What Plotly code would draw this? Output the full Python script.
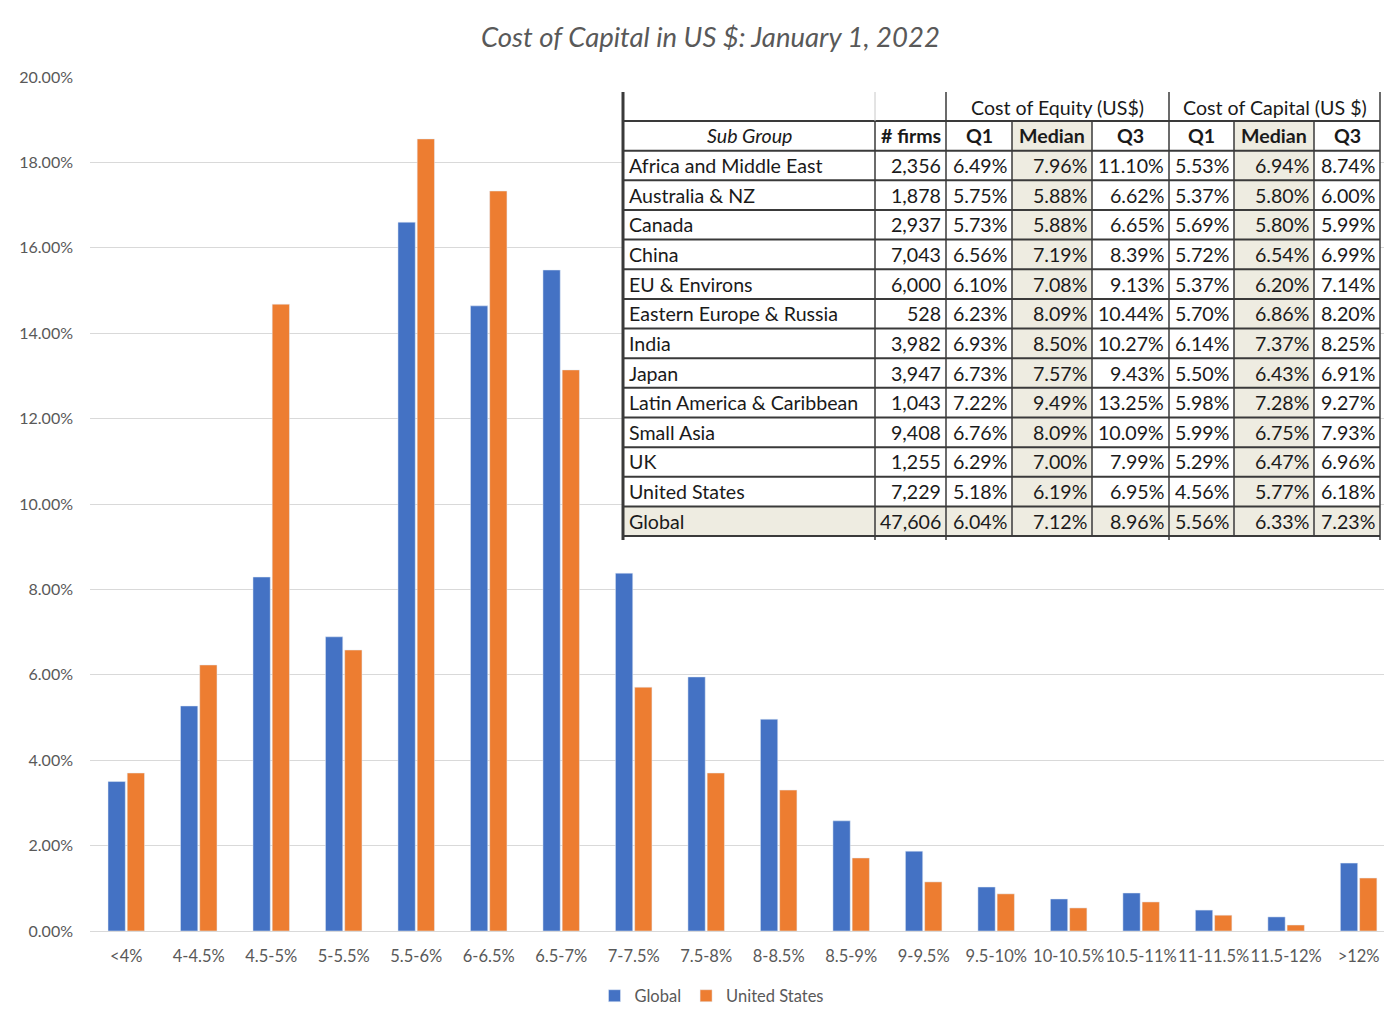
import plotly.graph_objects as go

# ---------------- data ----------------
categories = ["<4%", "4-4.5%", "4.5-5%", "5-5.5%", "5.5-6%", "6-6.5%", "6.5-7%", "7-7.5%",
              "7.5-8%", "8-8.5%", "8.5-9%", "9-9.5%", "9.5-10%", "10-10.5%", "10.5-11%",
              "11-11.5%", "11.5-12%", ">12%"]
global_vals = [3.50, 5.27, 8.29, 6.89, 16.60, 14.64, 15.48, 8.38, 5.95, 4.96, 2.58, 1.87,
               1.03, 0.75, 0.89, 0.49, 0.33, 1.59]
us_vals = [3.70, 6.23, 14.68, 6.58, 18.55, 17.33, 13.14, 5.71, 3.70, 3.30, 1.71, 1.15,
           0.87, 0.54, 0.68, 0.37, 0.14, 1.24]
y_ticks = [0, 2, 4, 6, 8, 10, 12, 14, 16, 18, 20]

regions = ["Africa and Middle East", "Australia & NZ", "Canada", "China", "EU & Environs",
           "Eastern Europe & Russia", "India", "Japan", "Latin America & Caribbean",
           "Small Asia", "UK", "United States", "Global"]
n_firms = [2356, 1878, 2937, 7043, 6000, 528, 3982, 3947, 1043, 9408, 1255, 7229, 47606]
coe_q1 = [6.49, 5.75, 5.73, 6.56, 6.10, 6.23, 6.93, 6.73, 7.22, 6.76, 6.29, 5.18, 6.04]
coe_med = [7.96, 5.88, 5.88, 7.19, 7.08, 8.09, 8.50, 7.57, 9.49, 8.09, 7.00, 6.19, 7.12]
coe_q3 = [11.10, 6.62, 6.65, 8.39, 9.13, 10.44, 10.27, 9.43, 13.25, 10.09, 7.99, 6.95, 8.96]
coc_q1 = [5.53, 5.37, 5.69, 5.72, 5.37, 5.70, 6.14, 5.50, 5.98, 5.99, 5.29, 4.56, 5.56]
coc_med = [6.94, 5.80, 5.80, 6.54, 6.20, 6.86, 7.37, 6.43, 7.28, 6.75, 6.47, 5.77, 6.33]
coc_q3 = [8.74, 6.00, 5.99, 6.99, 7.14, 8.20, 8.25, 6.91, 9.27, 7.93, 6.96, 6.18, 7.23]
group_headers = ["Cost of Equity (US$)", "Cost of Capital (US $)"]
col_headers = ["Sub Group", "# firms", "Q1", "Median", "Q3", "Q1", "Median", "Q3"]

# ---------------- layout geometry (pixels) ----------------
W, H = 1384, 1020
PL, PR, PT, PB = 90, 1384, 77, 931
FONT = "Lato"
GRAY = "#595959"


def px(x):
    return (x - PL) / (PR - PL)


def py(y):
    return (PB - y) / (PB - PT)


fig = go.Figure()
fig.add_trace(go.Bar(name="Global", x=categories, y=global_vals, marker_color="#4472C4"))
fig.add_trace(go.Bar(name="United States", x=categories, y=us_vals, marker_color="#ED7D31"))

fig.update_layout(
    width=W, height=H,
    margin=dict(l=PL, r=W - PR, t=PT, b=H - PB, pad=0, autoexpand=False),
    plot_bgcolor="white", paper_bgcolor="white",
    barmode="group", bargap=0.47, bargroupgap=0.1,
    font=dict(family=FONT, color=GRAY),
    showlegend=True,
    legend=dict(orientation="h", x=px(712), xanchor="center", y=py(996), yanchor="middle",
                font=dict(size=16.5, color=GRAY), itemwidth=30, tracegroupgap=0,
                bgcolor="rgba(0,0,0,0)"),
)
fig.update_xaxes(range=[-0.5, 17.35], showgrid=False, showline=True, linecolor="#d9d9d9",
                 linewidth=1, ticks="", tickangle=0, automargin=False,
                 tickfont=dict(size=16.5, color=GRAY, family=FONT),
                 ticklabelstandoff=10, zeroline=False)
fig.update_yaxes(range=[0, 20], tickvals=y_ticks, automargin=False,
                 ticktext=[f"{v:.2f}%" for v in y_ticks],
                 showgrid=True, gridcolor="#d9d9d9", gridwidth=1, zeroline=False,
                 showline=False, ticks="", ticklabelstandoff=16,
                 tickfont=dict(size=16, color=GRAY, family=FONT))

# title
fig.add_annotation(text="<i>Cost of Capital in US $: January 1, 2022</i>", xref="paper", yref="paper",
                   x=px(710), y=py(37), xanchor="center", yanchor="middle", showarrow=False,
                   font=dict(size=27.5, color=GRAY, family=FONT))

# ---------------- table ----------------
col_x = [623, 875, 946, 1012, 1092, 1169, 1234, 1314, 1380]
T_TOP = 92
ROW0 = 121
RH = 29.65
n_rows = len(regions)
row_y = [ROW0 + RH * k for k in range(n_rows + 2)]  # header2 top .. bottom
T_BOT = row_y[-1]
BEIGE = "#EEECE1"
LINE = "#3a3a3a"
TXT = "#1a1a1a"
shapes = []


def rect(x0, y0, x1, y1, color):
    shapes.append(dict(type="rect", xref="paper", yref="paper", x0=px(x0), x1=px(x1),
                       y0=py(y1), y1=py(y0), fillcolor=color, line=dict(width=0), layer="above"))


def hline(x0, x1, y, w=2, c=LINE):
    shapes.append(dict(type="line", xref="paper", yref="paper", x0=px(x0), x1=px(x1),
                       y0=py(y), y1=py(y), line=dict(color=c, width=w), layer="above"))


def vline(x, y0, y1, w=1.5, c=LINE):
    shapes.append(dict(type="line", xref="paper", yref="paper", x0=px(x), x1=px(x),
                       y0=py(y0), y1=py(y1), line=dict(color=c, width=w), layer="above"))


# backgrounds
rect(col_x[0], T_TOP, col_x[-1], T_BOT, "white")
for ci in (3, 6):
    rect(col_x[ci], row_y[0], col_x[ci + 1], T_BOT, BEIGE)
rect(col_x[0], row_y[-2], col_x[-1], T_BOT, BEIGE)

# horizontal lines
for y in row_y:
    hline(col_x[0], col_x[-1], y)
# vertical lines
vline(col_x[0], T_TOP, T_BOT + 4, w=3)
vline(col_x[1], T_TOP, row_y[0], w=1, c="#c8c8c8")
vline(col_x[1], row_y[0], T_BOT + 4, w=1.5)
for ci in (2, 5, 8):
    vline(col_x[ci], T_TOP, T_BOT + 4, w=1.5)
for ci in (3, 4, 6, 7):
    vline(col_x[ci], row_y[0], T_BOT, w=1.5)
fig.update_layout(shapes=shapes)

TS = 19.6


def txt(s, x, y, anchor, bold=False, italic=False):
    if bold:
        s = f"<b>{s}</b>"
    if italic:
        s = f"<i>{s}</i>"
    fig.add_annotation(text=s, xref="paper", yref="paper", x=px(x), y=py(y), xanchor=anchor,
                       yanchor="middle", showarrow=False, font=dict(size=TS, color=TXT, family=FONT))


# header row 1
hy = (T_TOP + row_y[0]) / 2 + 1
txt(group_headers[0], (col_x[2] + col_x[5]) / 2, hy, "center")
txt(group_headers[1], (col_x[5] + col_x[8]) / 2, hy, "center")
# header row 2
hy2 = (row_y[0] + row_y[1]) / 2
for ci, h in enumerate(col_headers):
    cx = (col_x[ci] + col_x[ci + 1]) / 2
    txt(h, cx, hy2, "center", bold=(ci > 0), italic=(ci == 0))

# data rows
cols = [coe_q1, coe_med, coe_q3, coc_q1, coc_med, coc_q3]
for r in range(n_rows):
    yc = (row_y[r + 1] + row_y[r + 2]) / 2
    txt(regions[r], col_x[0] + 4, yc, "left")
    txt(f"{n_firms[r]:,}", col_x[2] - 3, yc, "right")
    for k, col in enumerate(cols):
        txt(f"{col[r]:.2f}%", col_x[k + 3] - 3, yc, "right")

fig.write_html("out.html")
